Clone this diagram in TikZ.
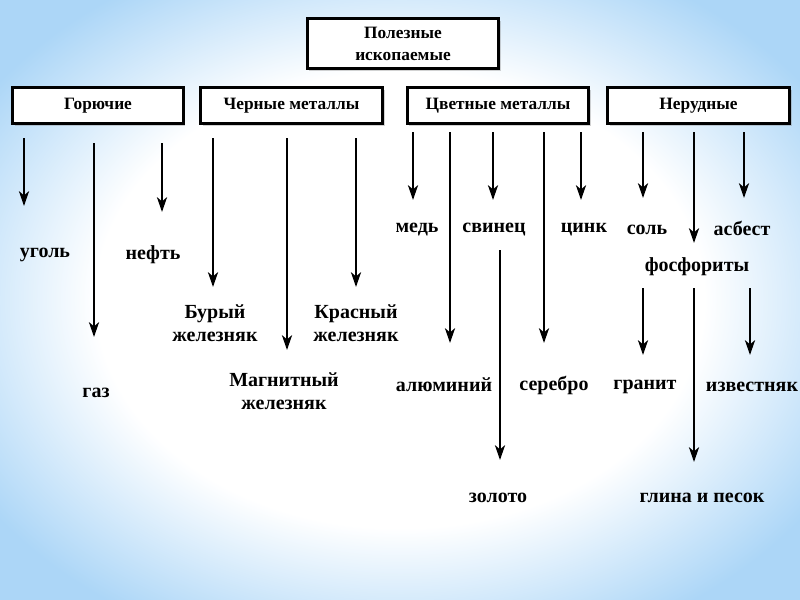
\documentclass[tikz,border=0pt]{standalone}
\usepackage{fontspec}
\setmainfont{Liberation Serif}
\usetikzlibrary{arrows.meta,shadows}
\definecolor{skyedge}{RGB}{172,214,247}
\pgfdeclareradialshading{skyglow}{\pgfpoint{0bp}{0bp}}{color(0bp)=(white); color(19bp)=(white); color(31bp)=(skyedge); color(50bp)=(skyedge)}

\begin{document}
\begin{tikzpicture}[x=0.75pt,y=-0.75pt,inner sep=0pt,
    catbox/.style={draw,line width=2.2pt,fill=white,minimum height=27pt,align=center,
        font=\bfseries\fontsize{13}{16.5}\selectfont,
        drop shadow={opacity=0.35,shadow xshift=1.5pt,shadow yshift=-1.5pt}},
    item/.style={align=center,font=\bfseries\fontsize{15}{17.25}\selectfont},
    arr/.style={line width=1.8pt,-{Stealth[length=11pt,width=7.5pt,inset=3pt]}}]
\useasboundingbox (0,0) rectangle (800,600);
\shade[shading=skyglow] (0,0) rectangle (800,600);
% boxes
\draw (403, 43.5) node[catbox,minimum width=143.5pt,minimum height=37.5pt](root) {Полезные\\ископаемые};
\draw (98, 105.5) node[catbox,minimum width=128pt](cat0) {Горючие};
\draw (291.5, 105.5) node[catbox,minimum width=136.5pt](cat1) {Черные металлы};
\draw (498, 105.5) node[catbox,minimum width=136pt](cat2) {Цветные металлы};
\draw (698.5, 105.5) node[catbox,minimum width=136.5pt](cat3) {Нерудные};
% labels
\draw (45, 255) node[item](item0) {уголь};
\draw (96, 393) node[item](item1) {газ};
\draw (153, 255) node[item](item2) {нефть};
\draw (215, 323.5) node[item](item3) {Бурый\\железняк};
\draw (284, 391) node[item](item4) {Магнитный\\железняк};
\draw (356, 323.5) node[item](item5) {Красный\\железняк};
\draw (417, 230) node[item](item6) {медь};
\draw (444, 385) node[item](item7) {алюминий};
\draw (494, 230) node[item](item8) {свинец};
\draw (554, 385) node[item](item9) {серебро};
\draw (584, 230) node[item](item10) {цинк};
\draw (647, 230) node[item](item11) {соль};
\draw (697, 267) node[item](item12) {фосфориты};
\draw (742, 228) node[item](item13) {асбест};
\draw (498, 498) node[item](item14) {золото};
\draw (645, 387) node[item](item15) {гранит};
\draw (702, 498) node[item](item16) {глина и песок};
\draw (752, 387) node[item](item17) {известняк};
% arrow ends
\coordinate (top0) at (24, 138);  \coordinate (tip0) at (24, 206);
\coordinate (top1) at (94, 143);  \coordinate (tip1) at (94, 337);
\coordinate (top2) at (162, 143); \coordinate (tip2) at (162, 212);
\coordinate (top3) at (213, 138); \coordinate (tip3) at (213, 287);
\coordinate (top4) at (287, 138); \coordinate (tip4) at (287, 350);
\coordinate (top5) at (356, 138); \coordinate (tip5) at (356, 287);
\coordinate (top6) at (413, 132); \coordinate (tip6) at (413, 200);
\coordinate (top7) at (450, 132); \coordinate (tip7) at (450, 343);
\coordinate (top8) at (493, 132); \coordinate (tip8) at (493, 200);
\coordinate (top9) at (544, 132); \coordinate (tip9) at (544, 343);
\coordinate (top10) at (581, 132); \coordinate (tip10) at (581, 200);
\coordinate (top11) at (643, 132); \coordinate (tip11) at (643, 198);
\coordinate (top12) at (694, 132); \coordinate (tip12) at (694, 243);
\coordinate (top13) at (744, 132); \coordinate (tip13) at (744, 198);
\coordinate (top14) at (500, 250); \coordinate (tip14) at (500, 460);
\coordinate (top15) at (643, 288); \coordinate (tip15) at (643, 355);
\coordinate (top16) at (694, 288); \coordinate (tip16) at (694, 462);
\coordinate (top17) at (750, 288); \coordinate (tip17) at (750, 355);
\draw[arr] (top0) -- (tip0);
\draw[arr] (top1) -- (tip1);
\draw[arr] (top2) -- (tip2);
\draw[arr] (top3) -- (tip3);
\draw[arr] (top4) -- (tip4);
\draw[arr] (top5) -- (tip5);
\draw[arr] (top6) -- (tip6);
\draw[arr] (top7) -- (tip7);
\draw[arr] (top8) -- (tip8);
\draw[arr] (top9) -- (tip9);
\draw[arr] (top10) -- (tip10);
\draw[arr] (top11) -- (tip11);
\draw[arr] (top12) -- (tip12);
\draw[arr] (top13) -- (tip13);
\draw[arr] (top14) -- (tip14);
\draw[arr] (top15) -- (tip15);
\draw[arr] (top16) -- (tip16);
\draw[arr] (top17) -- (tip17);
\end{tikzpicture}
\end{document}
